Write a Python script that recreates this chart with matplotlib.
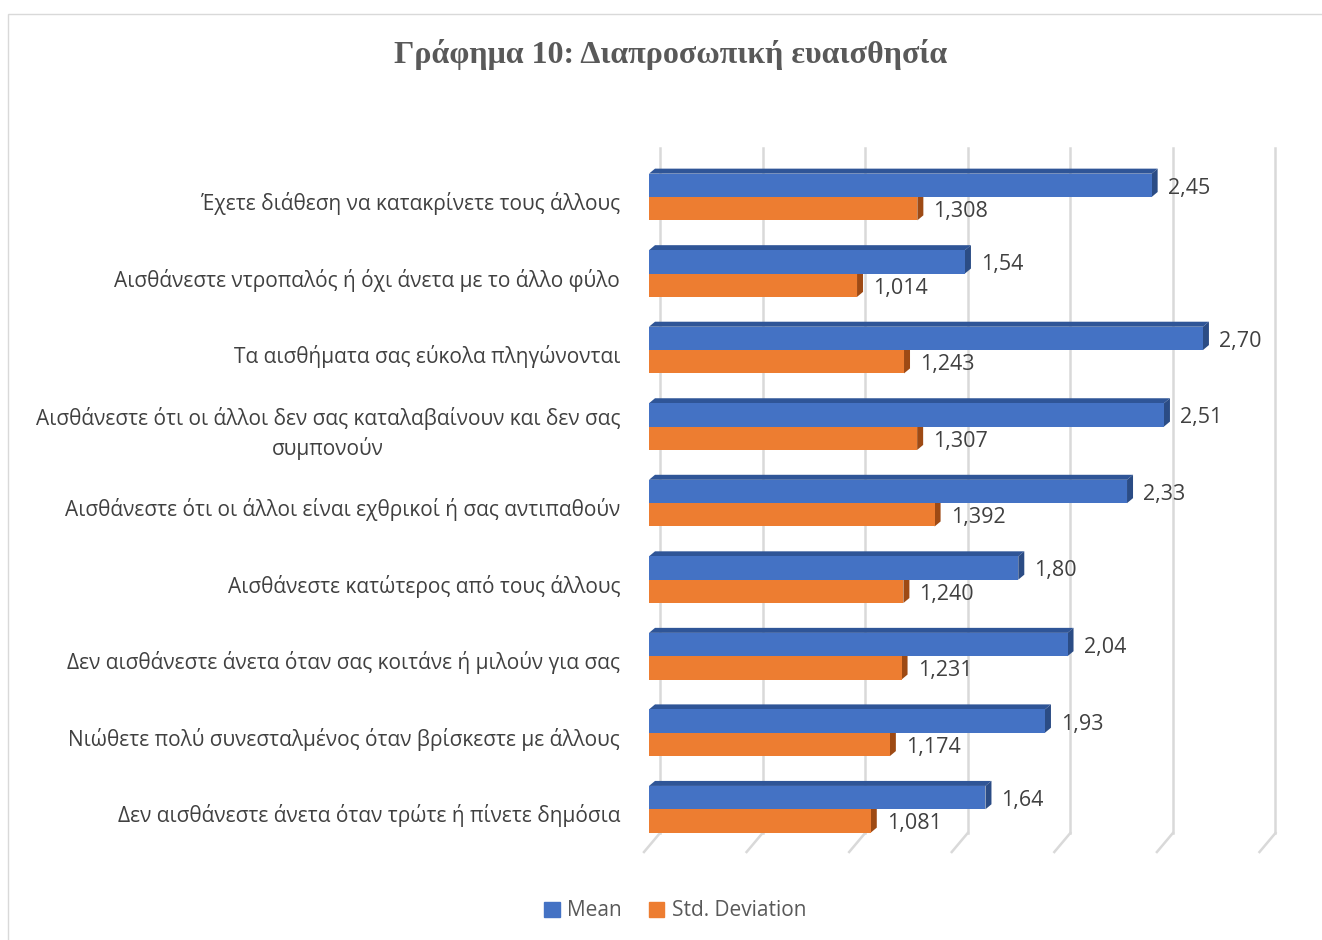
import matplotlib.pyplot as plt
from matplotlib.patches import Polygon, Rectangle, Patch
import numpy as np

categories = [
    "Έχετε διάθεση να κατακρίνετε τους άλλους",
    "Αισθάνεστε ντροπαλός ή όχι άνετα με το άλλο φύλο",
    "Τα αισθήματα σας εύκολα πληγώνονται",
    "Αισθάνεστε ότι οι άλλοι δεν σας καταλαβαίνουν και δεν σας\nσυμπονούν",
    "Αισθάνεστε ότι οι άλλοι είναι εχθρικοί ή σας αντιπαθούν",
    "Αισθάνεστε κατώτερος από τους άλλους",
    "Δεν αισθάνεστε άνετα όταν σας κοιτάνε ή μιλούν για σας",
    "Νιώθετε πολύ συνεσταλμένος όταν βρίσκεστε με άλλους",
    "Δεν αισθάνεστε άνετα όταν τρώτε ή πίνετε δημόσια",
]
means = [2.45, 1.54, 2.70, 2.51, 2.33, 1.80, 2.04, 1.93, 1.64]
stds = [1.308, 1.014, 1.243, 1.307, 1.392, 1.240, 1.231, 1.174, 1.081]
ticks = [0, 0.5, 1.0, 1.5, 2.0, 2.5, 3.0]

plt.rcParams["font.family"] = ["Open Sans", "DejaVu Sans"]

W, H = 1322, 940
fig = plt.figure(figsize=(W / 100, H / 100), dpi=100)

# plot box in pixels
left, right, top, bottom = 649, 1285, 148, 833
ax = fig.add_axes([left / W, 1 - bottom / H, (right - left) / W, (bottom - top) / H])
xmax = 3.1
ymin, ymax = -0.64, 8.31
ax.set_xlim(0, xmax)
ax.set_ylim(ymax, ymin)
ax.axis("off")
ux = (right - left) / xmax      # pixels per unit on x
uy = (bottom - top) / (ymax - ymin)  # pixels per category

# back-wall gridlines with the slanted floor foot
grid_c = "#D9D9D9"
for v in ticks:
    bx = v + 11 / ux
    ax.plot([bx, bx], [ymin, ymax], color=grid_c, lw=1.8, zorder=0, clip_on=False)
    ax.plot([bx, v - 5 / ux], [ymax, ymax + 19 / uy], color=grid_c, lw=1.8,
            zorder=0, clip_on=False)

h = 0.305
dx, dy = 6 / ux, 5 / uy
blue, blue_top, blue_side = "#4472C4", "#2F5597", "#2B4C85"
orange, orange_side = "#ED7D31", "#9E4A14"
txt = "#404040"

y = np.arange(len(categories))
for i, (m, s) in enumerate(zip(means, stds)):
    # std deviation bar (lower), side face first
    ax.add_patch(Polygon([(s, i), (s + dx, i - dy), (s + dx, i + h - dy), (s, i + h)],
                         closed=True, color=orange_side, lw=0, zorder=2))
    # mean bar faces
    ax.add_patch(Polygon([(0, i - h), (m, i - h), (m + dx, i - h - dy), (dx, i - h - dy)],
                         closed=True, color=blue_top, lw=0, zorder=4))
    ax.add_patch(Polygon([(m, i - h), (m + dx, i - h - dy), (m + dx, i - dy), (m, i)],
                         closed=True, color=blue_side, lw=0, zorder=4))

ax.barh(y - h / 2, means, height=h, color=blue, zorder=5)
ax.barh(y + h / 2, stds, height=h, color=orange, zorder=3)

for i, (m, s) in enumerate(zip(means, stds)):
    ax.text(m + 16 / ux, i - h / 2 + 3 / uy, f"{m:.2f}".replace(".", ","),
            ha="left", va="center", fontsize=15.5, color=txt, zorder=6)
    ax.text(s + 16 / ux, i + h / 2 + 3 / uy, f"{s:.3f}".replace(".", ","),
            ha="left", va="center", fontsize=15.5, color=txt, zorder=6)

for i, lab in enumerate(categories):
    ax.text(-29 / ux, i + 0.085, lab, ha="right", va="center", multialignment="center",
            fontsize=15, color=txt, linespacing=1.38)

fig.text(671 / W, 1 - 55 / H, "Γράφημα 10: Διαπροσωπική ευαισθησία",
         ha="center", va="center", fontsize=23, fontweight="bold",
         family="Liberation Serif", color="#595959")

handles = [Patch(color=blue), Patch(color=orange)]
fig.legend(handles, ["Mean", "Std. Deviation"], loc="center",
           bbox_to_anchor=(675 / W, 1 - 911 / H), ncol=2, frameon=False,
           handlelength=0.75, handleheight=0.75, handletextpad=0.35,
           columnspacing=1.3, fontsize=15, labelcolor="#595959")

# chart border
fig.add_artist(Rectangle((8 / W, -0.05), 1.1, 1.05 - 14 / H, transform=fig.transFigure,
                         fill=False, edgecolor="#D9D9D9", lw=1))

fig.savefig("out.png", dpi=100)
